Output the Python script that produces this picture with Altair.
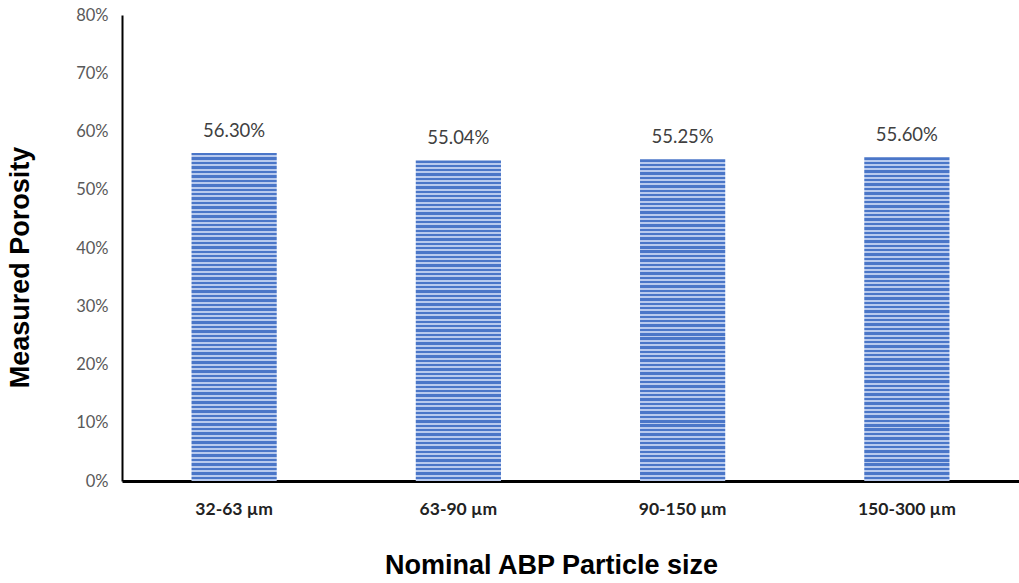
import altair as alt
import pandas as pd

categories = ["32-63 µm", "63-90 µm", "90-150 µm", "150-300 µm"]
porosity = [0.5630, 0.5504, 0.5525, 0.5560]
labels = ["56.30%", "55.04%", "55.25%", "55.60%"]

df = pd.DataFrame({"size": categories, "porosity": porosity, "label": labels})

# horizontal striped fill
n = 74
stops = []
dark, light = "#4a76c8", "#b8caee"
for i in range(n):
    a = i / n
    b = (i + 0.55) / n
    c = (i + 1) / n
    stops += [{"offset": a, "color": dark}, {"offset": b, "color": dark},
              {"offset": b, "color": light}, {"offset": c, "color": light}]
grad = alt.Gradient(gradient="linear", stops=stops, x1=0, y1=0, x2=0, y2=1)

x = alt.X("size:N", sort=categories, title="Nominal ABP  Particle size",
          scale=alt.Scale(paddingInner=0.62, paddingOuter=0.31),
          axis=alt.Axis(labelAngle=0, labelFont="Lato", labelFontSize=17.5, labelFontWeight="bold",
                        labelColor="#222222", labelPadding=19, ticks=False, domainColor="black",
                        domainWidth=3, titleFont="Liberation Sans", titleFontSize=27,
                        titleFontWeight="bold", titleColor="black", titlePadding=35,
                        titleX=429))
y = alt.Y("porosity:Q", title="Measured Porosity",
          scale=alt.Scale(domain=[0, 0.8]),
          axis=alt.Axis(format=".0%", values=[0, 0.1, 0.2, 0.3, 0.4, 0.5, 0.6, 0.7, 0.8],
                        grid=False, ticks=False, labelFont="Lato", labelFontSize=16.5,
                        labelColor="#595959", labelPadding=14, domainColor="black", domainWidth=2,
                        titleFont="Liberation Sans", titleFontSize=27, titleFontWeight="bold",
                        titleColor="black", titlePadding=41, titleY=252))

bars = alt.Chart(df).mark_bar(color=grad).encode(x=x, y=y)
text = alt.Chart(df).mark_text(dy=-22, font="Lato", fontSize=18.5, color="#404040").encode(
    x=alt.X("size:N", sort=categories), y="porosity:Q", text="label:N")

chart = (bars + text).properties(
    width=897, height=466,
    background="white",
    autosize=alt.AutoSizeParams(type="none"),
    padding={"left": 122, "top": 15, "right": 0, "bottom": 102},
).configure_view(stroke=None)

chart.save("out.html", embed_options={"renderer": "svg", "actions": False})
